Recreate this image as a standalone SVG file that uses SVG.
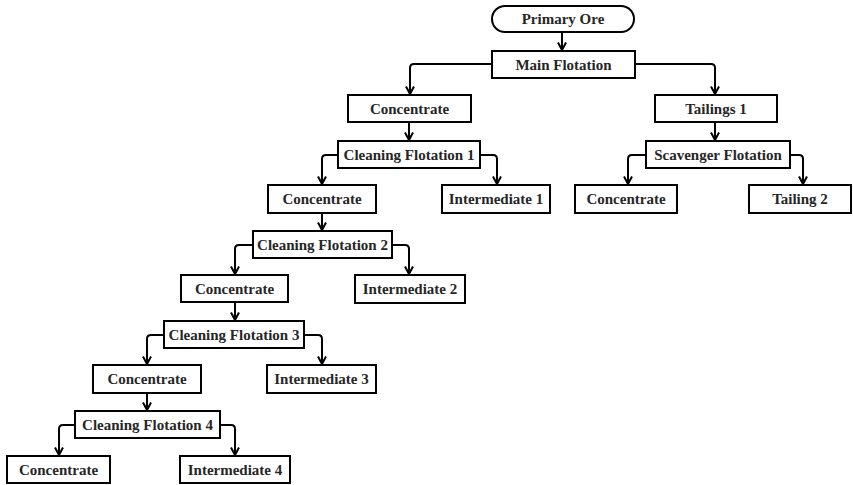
<svg xmlns="http://www.w3.org/2000/svg" width="853" height="485" viewBox="0 0 853 485">
<defs>
<style>
.box{fill:#fff;stroke:#000;stroke-width:2}
.t{font-family:"Liberation Serif","Times New Roman",serif;font-weight:bold;font-size:15px;fill:#262626;text-anchor:middle}
.c{fill:none;stroke:#000;stroke-width:2;marker-end:url(#ah)}
</style>
<marker id="ah" viewBox="0 0 10 10" refX="9" refY="5" markerWidth="10" markerHeight="10" markerUnits="userSpaceOnUse" orient="auto">
<path d="M1.5,1 L9,5 L1.5,9" fill="none" stroke="#000" stroke-width="2"/>
</marker>
</defs>
<rect width="853" height="485" fill="#fff"/>
<g id="connectors">
<path class="c" d="M562,32 V50"/>
<path class="c" d="M492,64 H414 Q410,64 410,68 V94"/>
<path class="c" d="M635,64 H711 Q715,64 715,68 V94"/>
<path class="c" d="M409,122 V140"/>
<path class="c" d="M715,122 V140"/>
<path class="c" d="M338,155 H326 Q322,155 322,159 V184"/>
<path class="c" d="M480,155 H493 Q497,155 497,159 V184"/>
<path class="c" d="M646,155 H632 Q628,155 628,159 V184"/>
<path class="c" d="M790,155 H799 Q803,155 803,159 V184"/>
<path class="c" d="M322,213 V230"/>
<path class="c" d="M253,245 H239 Q235,245 235,249 V274"/>
<path class="c" d="M392,245 H405 Q409,245 409,249 V274"/>
<path class="c" d="M235,302 V320"/>
<path class="c" d="M164,335 H151 Q147,335 147,339 V364"/>
<path class="c" d="M304,335 H318 Q322,335 322,339 V364"/>
<path class="c" d="M147,393 V410"/>
<path class="c" d="M75,425 H63 Q59,425 59,429 V455"/>
<path class="c" d="M220,425 H231 Q235,425 235,429 V455"/>
</g>
<g id="primary-ore"><rect class="box" x="492" y="6" width="142" height="26" rx="13"/><text class="t" x="563" y="24">Primary Ore</text></g>
<g id="main-flotation"><rect class="box" x="492" y="51" width="143" height="27"/><text class="t" x="563.5" y="70">Main Flotation</text></g>
<g id="concentrate-1"><rect class="box" x="348" y="95" width="123" height="27"/><text class="t" x="409.5" y="114">Concentrate</text></g>
<g id="tailings-1"><rect class="box" x="655" y="95" width="122" height="27"/><text class="t" x="716" y="114">Tailings 1</text></g>
<g id="cleaning-flotation-1"><rect class="box" x="338" y="141" width="142" height="27"/><text class="t" x="409" y="160">Cleaning Flotation 1</text></g>
<g id="scavenger-flotation"><rect class="box" x="646" y="141" width="144" height="27"/><text class="t" x="718" y="160">Scavenger Flotation</text></g>
<g id="concentrate-2"><rect class="box" x="268" y="185" width="108" height="28"/><text class="t" x="322" y="204">Concentrate</text></g>
<g id="intermediate-1"><rect class="box" x="442" y="185" width="108" height="28"/><text class="t" x="496" y="204">Intermediate 1</text></g>
<g id="concentrate-s"><rect class="box" x="575" y="185" width="102" height="28"/><text class="t" x="626" y="204">Concentrate</text></g>
<g id="tailing-2"><rect class="box" x="749" y="185" width="102" height="28"/><text class="t" x="800" y="204">Tailing 2</text></g>
<g id="cleaning-flotation-2"><rect class="box" x="253" y="231" width="139" height="27"/><text class="t" x="322.5" y="250">Cleaning Flotation 2</text></g>
<g id="concentrate-3"><rect class="box" x="181" y="275" width="107" height="27"/><text class="t" x="234.5" y="294">Concentrate</text></g>
<g id="intermediate-2"><rect class="box" x="355" y="275" width="110" height="28"/><text class="t" x="410" y="294">Intermediate 2</text></g>
<g id="cleaning-flotation-3"><rect class="box" x="164" y="321" width="140" height="27"/><text class="t" x="234" y="340">Cleaning Flotation 3</text></g>
<g id="concentrate-4"><rect class="box" x="93" y="365" width="108" height="28"/><text class="t" x="147" y="384">Concentrate</text></g>
<g id="intermediate-3"><rect class="box" x="267" y="365" width="109" height="28"/><text class="t" x="321.5" y="384">Intermediate 3</text></g>
<g id="cleaning-flotation-4"><rect class="box" x="75" y="411" width="145" height="27"/><text class="t" x="147.5" y="430">Cleaning Flotation 4</text></g>
<g id="concentrate-5"><rect class="box" x="7" y="456" width="103" height="27"/><text class="t" x="58.5" y="475">Concentrate</text></g>
<g id="intermediate-4"><rect class="box" x="180" y="456" width="110" height="27"/><text class="t" x="235" y="475">Intermediate 4</text></g>
</svg>
